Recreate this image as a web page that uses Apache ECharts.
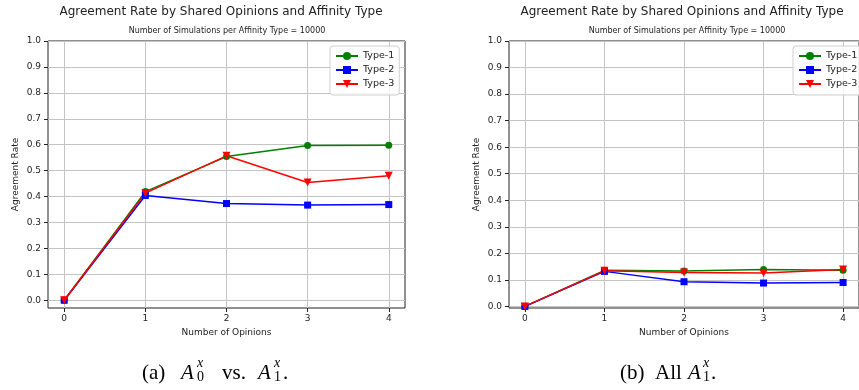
<!DOCTYPE html>
<html>
<head>
<meta charset="utf-8">
<style>
  html, body { margin: 0; padding: 0; background: #ffffff; }
  #chart { width: 859px; height: 390px; }
</style>
<script src="https://cdn.jsdelivr.net/npm/echarts@6/dist/echarts.min.js"></script>
</head>
<body>
<div id="chart"></div>
<script>
// Tick values and categories
const opinionTicks = [0, 1, 2, 3, 4];
const rateTicks = [0.0, 0.1, 0.2, 0.3, 0.4, 0.5, 0.6, 0.7, 0.8, 0.9, 1.0];
const seriesNames = ['Type-1', 'Type-2', 'Type-3'];

// Panel (a): A0 vs. A1
const panelA_type1 = [0.0, 0.419, 0.554, 0.597, 0.598];
const panelA_type2 = [0.0, 0.404, 0.373, 0.367, 0.369];
const panelA_type3 = [0.0, 0.413, 0.557, 0.454, 0.480];

// Panel (b): all A1
const panelB_type1 = [0.0, 0.136, 0.133, 0.139, 0.136];
const panelB_type2 = [0.0, 0.132, 0.093, 0.088, 0.090];
const panelB_type3 = [0.0, 0.134, 0.128, 0.126, 0.139];

const titleText = 'Agreement Rate by Shared Opinions and Affinity Type';
const subtitleText = 'Number of Simulations per Affinity Type = 10000';
const xName = 'Number of Opinions';
const yName = 'Agreement Rate';

const SANS = 'DejaVu Sans';
const SERIF = 'Liberation Serif';
const INK = '#222222';
const GRIDLINE = '#c4c4c4';
const colors = ['#008000', '#0000ff', '#ff0000'];
const symbols = ['circle', 'rect', 'path://M0,0 L10,0 L5,9 Z'];
const symbolSizes = [7, 7, 8];

const panels = [
  { left: 48, top: 41, width: 357, height: 267, ymin: -0.03, data: [panelA_type1, panelA_type2, panelA_type3],
    titleX: 221, subX: 227, legendLeft: 330 },
  { left: 509, top: 41, width: 357, height: 267, ymin: -0.006, data: [panelB_type1, panelB_type2, panelB_type3],
    titleX: 682, subX: 687, legendLeft: 793 }
];

const chart = echarts.init(document.getElementById('chart'), null, { renderer: 'canvas' });

const grid = [], xAxis = [], yAxis = [], series = [], legend = [], graphic = [];

panels.forEach((p, i) => {
  grid.push({
    left: p.left, top: p.top, width: p.width, height: p.height,
    show: true, borderColor: INK, borderWidth: 1, backgroundColor: 'transparent'
  });
  xAxis.push({
    type: 'value', gridIndex: i, min: -0.2, max: 4.2, position: 'bottom',
    name: xName, nameLocation: 'middle', nameGap: 19,
    nameTextStyle: { fontFamily: SANS, fontSize: 9, color: INK },
    axisLine: { show: false, onZero: false },
    axisTick: { show: true, inside: false, length: 4, lineStyle: { color: INK }, customValues: opinionTicks },
    axisLabel: { show: true, margin: 6, fontFamily: SANS, fontSize: 9, color: INK, customValues: opinionTicks,
      formatter: v => String(v) },
    splitLine: { show: true, lineStyle: { color: GRIDLINE, width: 1 } }
  });
  yAxis.push({
    type: 'value', gridIndex: i, min: p.ymin, max: 1.0, position: 'left',
    name: yName, nameLocation: 'middle', nameGap: 28, nameRotate: 90,
    nameTextStyle: { fontFamily: SANS, fontSize: 9, color: INK },
    axisLine: { show: false, onZero: false },
    axisTick: { show: true, inside: false, length: 4, lineStyle: { color: INK }, customValues: rateTicks },
    axisLabel: { show: true, margin: 7, fontFamily: SANS, fontSize: 9, color: INK, customValues: rateTicks,
      formatter: v => Number(v).toFixed(1) },
    splitLine: { show: true, lineStyle: { color: GRIDLINE, width: 1 } }
  });
  p.data.forEach((vals, k) => {
    series.push({
      name: seriesNames[k], type: 'line', xAxisIndex: i, yAxisIndex: i,
      data: opinionTicks.map((x, j) => [x, vals[j]]),
      symbol: symbols[k], symbolSize: symbolSizes[k], showAllSymbol: true, clip: false,
      lineStyle: { color: colors[k], width: 1.5 },
      itemStyle: { color: colors[k], borderWidth: 0 },
      emphasis: { disabled: true },
      animation: false
    });
  });
  legend.push({
    orient: 'vertical', left: p.legendLeft, top: 46,
    itemWidth: 22, itemHeight: 10, itemGap: 4, padding: [5, 5, 6, 5],
    borderColor: '#d0d0d0', borderWidth: 1, borderRadius: 3,
    backgroundColor: 'rgba(255,255,255,0.85)',
    textStyle: { fontFamily: SANS, fontSize: 9.5, color: INK },
    data: seriesNames, selectedMode: false
  });
  graphic.push({
    type: 'text', x: p.titleX, y: 12, silent: true,
    style: { text: titleText, fontFamily: SANS, fontSize: 12, fill: INK, align: 'center', verticalAlign: 'middle' }
  });
  graphic.push({
    type: 'text', x: p.subX, y: 31, silent: true,
    style: { text: subtitleText, fontFamily: SANS, fontSize: 8, fill: INK, align: 'center', verticalAlign: 'middle' }
  });
});

// Subfigure captions: math-style A with stacked sub/superscripts, each piece placed at its own x
function caption(pieces, baseline) {
  const MAIN = 21, SCRIPT = 14;
  pieces.forEach(pc => {
    if (pc.script) {
      graphic.push({ type: 'text', x: pc.x, y: baseline - 10, silent: true,
        style: { text: pc.sup, fontFamily: SERIF, fontStyle: 'italic', fontSize: SCRIPT, fill: '#000', align: 'left', verticalAlign: 'bottom' } });
      graphic.push({ type: 'text', x: pc.x, y: baseline + 4, silent: true,
        style: { text: pc.sub, fontFamily: SERIF, fontSize: SCRIPT, fill: '#000', align: 'left', verticalAlign: 'bottom' } });
    } else {
      graphic.push({ type: 'text', x: pc.x, y: baseline + 4, silent: true,
        style: { text: pc.t, fontFamily: SERIF, fontStyle: pc.italic ? 'italic' : 'normal', fontSize: MAIN, fill: '#000', align: 'left', verticalAlign: 'bottom' } });
    }
  });
}
caption([
  { t: '(a)', x: 142 }, { t: 'A', italic: true, x: 181 }, { script: true, sup: 'x', sub: '0', x: 197 },
  { t: 'vs.', x: 222 }, { t: 'A', italic: true, x: 258 }, { script: true, sup: 'x', sub: '1', x: 274 }, { t: '.', x: 283 }
], 380);
caption([
  { t: '(b)', x: 620 }, { t: 'All', x: 655 }, { t: 'A', italic: true, x: 688 },
  { script: true, sup: 'x', sub: '1', x: 703 }, { t: '.', x: 711 }
], 380);

chart.setOption({
  animation: false,
  backgroundColor: '#ffffff',
  grid, xAxis, yAxis, series, legend, graphic
});
</script>
</body>
</html>
